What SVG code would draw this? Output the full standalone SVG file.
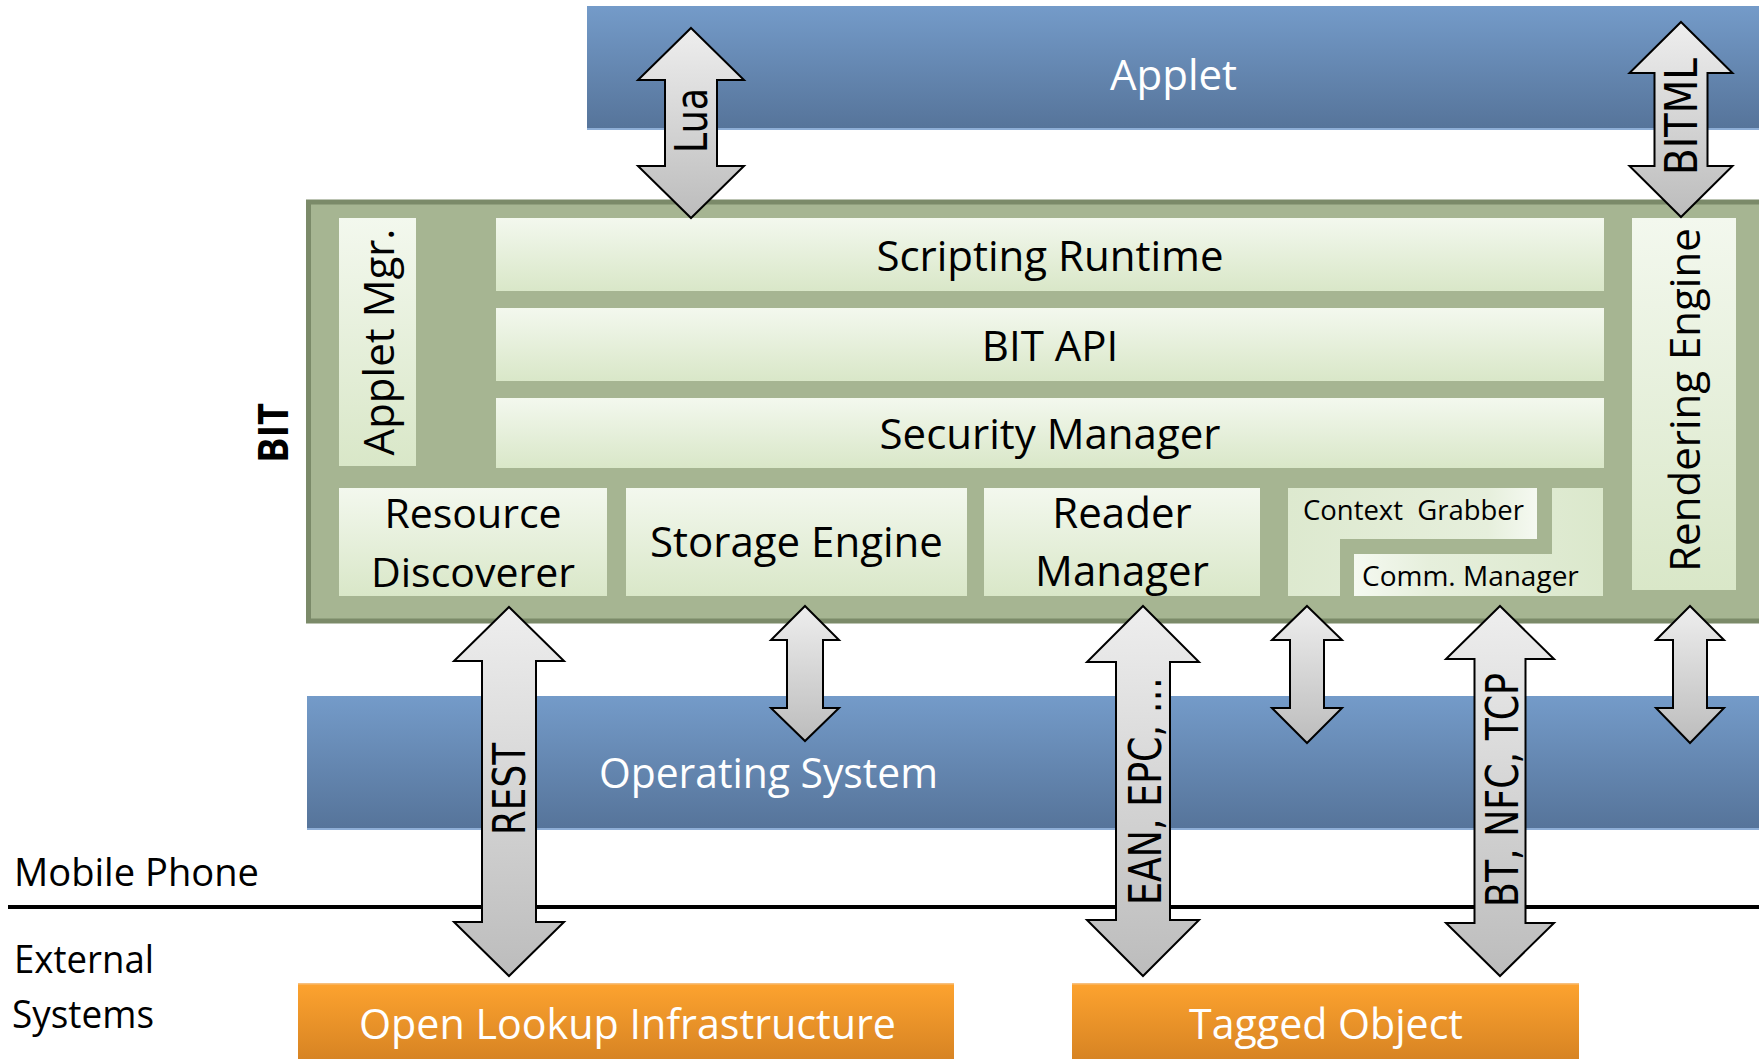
<svg xmlns="http://www.w3.org/2000/svg" width="1759" height="1059" viewBox="0 0 1759 1059">
  <defs>
    <linearGradient id="blueFill" x1="0" y1="0" x2="0" y2="1">
      <stop offset="0" stop-color="#749bc9"/>
      <stop offset="1" stop-color="#56749a"/>
    </linearGradient>
    <linearGradient id="orangeFill" x1="0" y1="0" x2="0" y2="1">
      <stop offset="0" stop-color="#fda32f"/>
      <stop offset="1" stop-color="#d07e21"/>
    </linearGradient>
    <linearGradient id="paleGreen" x1="0" y1="0" x2="0" y2="1">
      <stop offset="0" stop-color="#f3f8ee"/>
      <stop offset="1" stop-color="#d9e7c8"/>
    </linearGradient>
    <linearGradient id="paleGreenR" x1="0" y1="0" x2="1" y2="0">
      <stop offset="0" stop-color="#dde9cf"/>
      <stop offset="0.8" stop-color="#e6efdc"/>
      <stop offset="1" stop-color="#f5f9f1"/>
    </linearGradient>
    <linearGradient id="paleGreenL" x1="0" y1="0" x2="1" y2="0">
      <stop offset="0" stop-color="#f5f9f1"/>
      <stop offset="0.3" stop-color="#e6efdc"/>
      <stop offset="1" stop-color="#dbe8cc"/>
    </linearGradient>
    <linearGradient id="arrowFill" x1="0" y1="0" x2="0" y2="1">
      <stop offset="0" stop-color="#eeeeee"/>
      <stop offset="1" stop-color="#bcbcbc"/>
    </linearGradient>
    <style>
      .lbl { font-family: "Open Sans", "Noto Sans", sans-serif; font-size: 42px; fill: #000; }
      .lbl-w { font-family: "Open Sans", "Noto Sans", sans-serif; font-size: 42px; fill: #fff; }
      .lbl-s { font-family: "Open Sans", "Noto Sans", sans-serif; font-size: 28px; fill: #000; }
      .side { font-family: "Open Sans", "Noto Sans", sans-serif; font-size: 39px; fill: #000; }
      .bit { font-family: "Open Sans", "Noto Sans", sans-serif; font-size: 41px; font-weight: bold; fill: #000; }
      .proto { font-family: "DejaVu Sans", "Verdana", sans-serif; font-size: 44px; fill: #000; }
      .mid { text-anchor: middle; }
      .pale { fill: url(#paleGreen); }
      .arrow { fill: url(#arrowFill); stroke: #000; stroke-width: 2; stroke-linejoin: miter; }
    </style>
  </defs>

  <rect width="1759" height="1059" fill="#ffffff"/>

  <!-- Applet layer -->
  <g id="applet">
    <rect x="587" y="6" width="1180" height="122" fill="url(#blueFill)"/>
    <rect x="587" y="128" width="1180" height="2" fill="#8eaed6"/>
    <text class="lbl-w mid" x="1173.5" y="90">Applet</text>
  </g>

  <!-- BIT container -->
  <g id="bit">
    <rect x="308.5" y="202" width="1500" height="419" fill="#a6b592" stroke="#7b8a69" stroke-width="5"/>
    <text class="bit mid" transform="translate(288,433) rotate(-90)" textLength="60" lengthAdjust="spacingAndGlyphs">BIT</text>
  </g>

  <g id="applet-mgr">
    <rect class="pale" x="339" y="218" width="77" height="248"/>
    <text class="lbl mid" transform="translate(394,342) rotate(-90)">Applet Mgr.</text>
  </g>

  <g id="scripting-runtime">
    <rect class="pale" x="496" y="218" width="1108" height="73"/>
    <text class="lbl mid" x="1050" y="271">Scripting Runtime</text>
  </g>

  <g id="bit-api">
    <rect class="pale" x="496" y="308" width="1108" height="73"/>
    <text class="lbl mid" x="1050" y="361">BIT API</text>
  </g>

  <g id="security-manager">
    <rect class="pale" x="496" y="398" width="1108" height="70"/>
    <text class="lbl mid" x="1050" y="449">Security Manager</text>
  </g>

  <g id="rendering-engine">
    <rect class="pale" x="1632" y="218" width="104" height="372"/>
    <text class="lbl mid" transform="translate(1700,400) rotate(-90)">Rendering Engine</text>
  </g>

  <g id="resource-discoverer">
    <rect class="pale" x="339" y="488" width="268" height="108"/>
    <text class="lbl mid" style="font-size:41px" x="473" y="528">Resource</text>
    <text class="lbl mid" style="font-size:41px" x="473" y="587">Discoverer</text>
  </g>

  <g id="storage-engine">
    <rect class="pale" x="626" y="488" width="341" height="108"/>
    <text class="lbl mid" x="796.5" y="557">Storage Engine</text>
  </g>

  <g id="reader-manager">
    <rect class="pale" x="984" y="488" width="276" height="108"/>
    <text class="lbl mid" x="1122" y="528">Reader</text>
    <text class="lbl mid" x="1122" y="586">Manager</text>
  </g>

  <g id="context-grabber">
    <path d="M1288,488 H1537 V539 H1340 V596 H1288 Z" fill="url(#paleGreenR)"/>
    <text class="lbl-s" x="1303" y="520" textLength="221" lengthAdjust="spacingAndGlyphs" xml:space="preserve">Context  Grabber</text>
  </g>

  <g id="comm-manager">
    <path d="M1552,488 H1603 V596 H1354 V554 H1552 Z" fill="url(#paleGreenL)"/>
    <text class="lbl-s" x="1362" y="586">Comm. Manager</text>
  </g>

  <!-- Operating system layer -->
  <g id="operating-system">
    <rect x="307" y="696" width="1460" height="132" fill="url(#blueFill)"/>
    <rect x="307" y="828" width="1460" height="2" fill="#8eaed6"/>
    <text class="lbl-w" x="599" y="788" textLength="339" lengthAdjust="spacingAndGlyphs">Operating System</text>
  </g>

  <!-- Device boundary -->
  <g id="boundary">
    <line x1="8" y1="907" x2="1759" y2="907" stroke="#000" stroke-width="4"/>
    <text class="side" x="14" y="886" textLength="245" lengthAdjust="spacingAndGlyphs">Mobile Phone</text>
    <text class="side" x="14" y="973" textLength="140" lengthAdjust="spacingAndGlyphs">External</text>
    <text class="side" x="12" y="1028" textLength="142" lengthAdjust="spacingAndGlyphs">Systems</text>
  </g>

  <!-- External systems -->
  <g id="open-lookup">
    <rect x="298" y="983" width="656" height="90" fill="url(#orangeFill)"/>
    <rect x="298" y="983" width="656" height="1.5" fill="#f7c07e"/>
    <text class="lbl-w mid" x="627.5" y="1039" textLength="537" lengthAdjust="spacingAndGlyphs">Open Lookup Infrastructure</text>
  </g>

  <g id="tagged-object">
    <rect x="1072" y="983" width="507" height="90" fill="url(#orangeFill)"/>
    <rect x="1072" y="983" width="507" height="1.5" fill="#f7c07e"/>
    <text class="lbl-w mid" x="1326" y="1039" textLength="274" lengthAdjust="spacingAndGlyphs">Tagged Object</text>
  </g>

  <!-- Connectors: double-headed block arrows -->
  <g id="connectors">
    <g id="arrow-lua">
      <polygon class="arrow" points="691,28 744,80 717,80 717,166 744,166 691,218 638,166 665,166 665,80 638,80"/>
      <text class="proto mid" transform="translate(707,120.5) rotate(-90)" textLength="65" lengthAdjust="spacingAndGlyphs">Lua</text>
    </g>
    <g id="arrow-bitml">
      <polygon class="arrow" points="1681,22 1732.5,73 1707.5,73 1707.5,166 1732.5,166 1681,217 1629.5,166 1654.5,166 1654.5,73 1629.5,73"/>
      <text class="proto mid" transform="translate(1697,116.5) rotate(-90)" textLength="117" lengthAdjust="spacingAndGlyphs">BITML</text>
    </g>
    <g id="arrow-rest">
      <polygon class="arrow" points="509,607 564,661 536,661 536,922 564,922 509,976 454,922 482,922 482,661 454,661"/>
      <text class="proto mid" transform="translate(525,789) rotate(-90)" textLength="92" lengthAdjust="spacingAndGlyphs">REST</text>
    </g>
    <g id="arrow-storage">
      <polygon class="arrow" points="805,606 839,640 823,640 823,708 839,708 805,741 771,708 787,708 787,640 771,640"/>
    </g>
    <g id="arrow-reader">
      <polygon class="arrow" points="1143,606 1199,662 1170,662 1170,920 1199,920 1143,976 1087,920 1116,920 1116,662 1087,662"/>
      <text class="proto mid" transform="translate(1161,791) rotate(-90)" textLength="228" lengthAdjust="spacingAndGlyphs">EAN, EPC, …</text>
    </g>
    <g id="arrow-context">
      <polygon class="arrow" points="1307,606 1342,640 1324,640 1324,708 1342,708 1307,743 1272,708 1290,708 1290,640 1272,640"/>
    </g>
    <g id="arrow-comm">
      <polygon class="arrow" points="1500,606 1554,659 1525.5,659 1525.5,923 1554,923 1500,976 1446,923 1474.5,923 1474.5,659 1446,659"/>
      <text class="proto mid" transform="translate(1518,790) rotate(-90)" textLength="234" lengthAdjust="spacingAndGlyphs">BT, NFC, TCP</text>
    </g>
    <g id="arrow-rendering">
      <polygon class="arrow" points="1690,606 1724,640 1707,640 1707,708 1724,708 1690,743 1656,708 1673,708 1673,640 1656,640"/>
    </g>
  </g>
</svg>
